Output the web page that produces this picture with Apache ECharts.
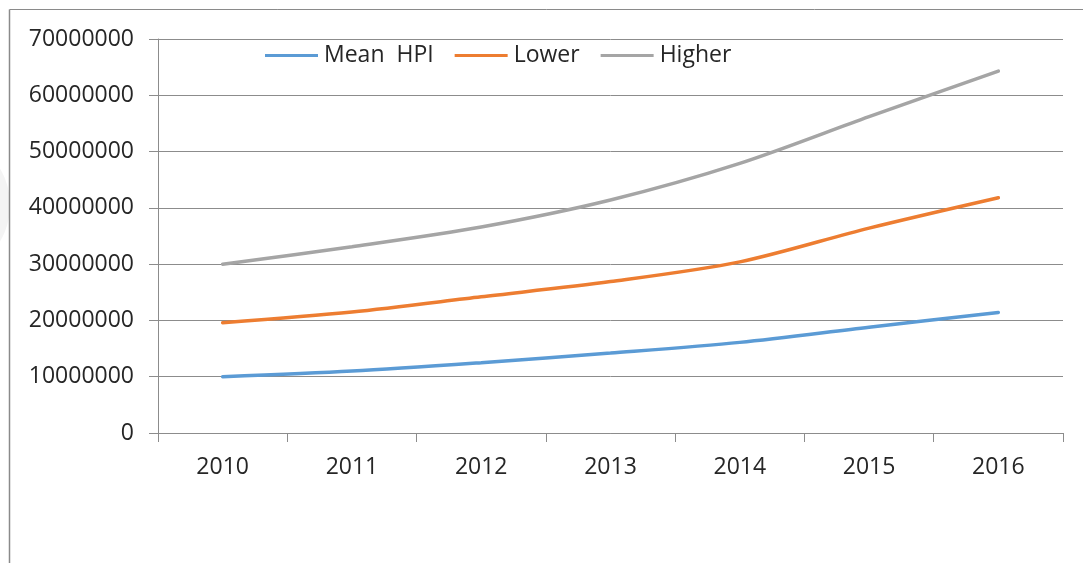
<!DOCTYPE html>
<html>
<head>
<meta charset="utf-8">
<script src="https://cdn.jsdelivr.net/npm/echarts@6/dist/echarts.min.js"></script>
<style>
  html, body { margin: 0; padding: 0; background: #ffffff; }
  #chart { width: 1083px; height: 563px; }
</style>
</head>
<body>
<div id="chart"></div>
<script>
// House price index projections, 2010–2016
const years = ['2010', '2011', '2012', '2013', '2014', '2015', '2016'];
const meanHPI = [10000000, 11000000, 12500000, 14200000, 16100000, 18800000, 21400000];
const lower   = [19600000, 21500000, 24200000, 26900000, 30400000, 36400000, 41800000];
const higher  = [30000000, 33100000, 36600000, 41400000, 47900000, 56200000, 64300000];
const yTicks = { min: 0, max: 70000000, interval: 10000000 };

const FONT = '"Open Sans", "Liberation Sans", sans-serif';
const TEXT = '#262626';
const AXIS = '#8c8c8c';

function lineSeries(name, data, color) {
  return {
    name: name,
    type: 'line',
    data: data,
    smooth: 0.3,
    symbol: 'none',
    lineStyle: { width: 3.5, color: color, cap: 'round' },
    itemStyle: { color: color }
  };
}

const chart = echarts.init(document.getElementById('chart'), null, { renderer: 'canvas' });
chart.setOption({
  backgroundColor: '#ffffff',
  animation: false,
  graphic: [
    // faint mark at the left edge
    { type: 'circle', shape: { cx: -62, cy: 205, r: 72 }, style: { fill: '#f4f4f4' }, z: -10 },
    // chart frame (top and left edges)
    { type: 'line', shape: { x1: 9.5, y1: 9.5, x2: 1083, y2: 9.5 }, style: { stroke: '#8a8a8a', lineWidth: 1 } },
    { type: 'line', shape: { x1: 9.5, y1: 9.5, x2: 9.5, y2: 563 }, style: { stroke: '#8a8a8a', lineWidth: 1.5 } }
  ],
  legend: {
    left: 260,
    top: 39,
    icon: 'rect',
    itemWidth: 53,
    itemHeight: 3,
    itemGap: 21,
    textStyle: { fontFamily: FONT, fontSize: 23, color: TEXT, padding: [0, 0, 0, 1] },
    data: ['Mean  HPI', 'Lower', 'Higher']
  },
  grid: { left: 158, right: 20, top: 39, bottom: 130, containLabel: false },
  xAxis: {
    type: 'category',
    data: years,
    boundaryGap: true,
    axisLine: { lineStyle: { color: AXIS, width: 1 } },
    axisTick: { show: true, length: 9, inside: false, alignWithLabel: false, lineStyle: { color: AXIS } },
    axisLabel: { fontFamily: FONT, fontSize: 23, color: TEXT, margin: 23 },
    splitLine: { show: false }
  },
  yAxis: {
    type: 'value',
    min: yTicks.min,
    max: yTicks.max,
    interval: yTicks.interval,
    axisLine: { show: true, lineStyle: { color: AXIS, width: 1 } },
    axisTick: { show: true, length: 9, lineStyle: { color: AXIS } },
    axisLabel: { fontFamily: FONT, fontSize: 23, color: TEXT, margin: 24, formatter: v => String(v) },
    splitLine: { show: true, lineStyle: { color: AXIS, width: 1 } }
  },
  series: [
    lineSeries('Mean  HPI', meanHPI, '#5b9bd5'),
    lineSeries('Lower', lower, '#ed7d31'),
    lineSeries('Higher', higher, '#a5a5a5')
  ]
});
</script>
</body>
</html>
